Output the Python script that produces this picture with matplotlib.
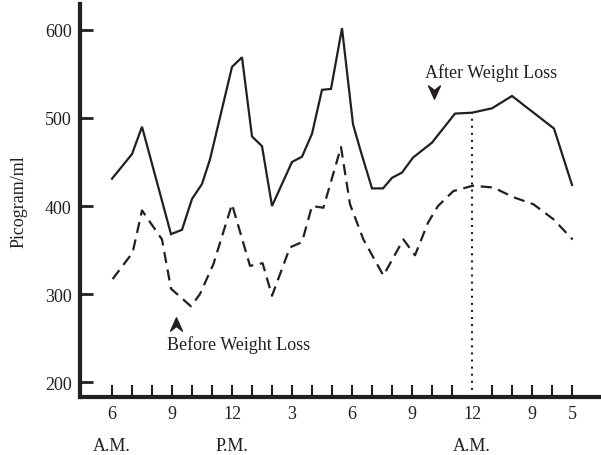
import matplotlib
matplotlib.use('Agg')
import matplotlib.pyplot as plt
from matplotlib.path import Path
from matplotlib.transforms import blended_transform_factory

plt.rcParams['font.family'] = ['Liberation Serif', 'DejaVu Serif']

# hours counted from 6 A.M. (one tick = one hour)
after_hours = [0, 1, 1.5, 2.95, 3.5, 4, 4.5, 4.9, 6, 6.5, 7, 7.5, 8, 9, 9.5, 10,
               10.5, 10.95, 11.5, 12.05, 12.4, 13, 13.55, 14, 14.5, 15.05, 16,
               17.15, 18, 19, 20, 22.1, 23]
after_vals = [431, 459, 490, 368, 373, 408, 425, 453, 558, 569, 479, 468, 400,
              450, 456, 482, 532, 533, 602, 493, 465, 420, 420, 432, 438, 455,
              472, 505, 506, 511, 525, 488, 424]

before_hours = [0.03, 1.03, 1.5, 2.5, 2.95, 3.95, 4.4, 5.07, 6, 6.9, 7.53, 8,
                8.9, 9.5, 10, 10.57, 11.45, 11.9, 12.57, 13.57, 14.57, 15.15,
                15.8, 16.3, 17.07, 17.4, 18.03, 19.07, 20.07, 21.07, 22.07, 23.03]
before_vals = [317, 347, 395, 362, 306, 286, 300, 334, 402, 332, 335, 298,
               353, 359, 400, 398, 467, 402, 362, 321, 362, 344, 381, 400, 417,
               419, 423, 421, 410, 402, 385, 362]

label_pos = [0, 3, 6, 9, 12, 15, 18, 21, 23]
label_text = ['6', '9', '12', '3', '6', '9', '12', '9', '5']
minor_pos = [h for h in range(24) if h not in label_pos]
period_pos = [0, 6, 18]
period_text = ['A.M.', 'P.M.', 'A.M.']
y_ticks = [200, 300, 400, 500, 600]
midnight = 18

ink = '#231f20'

fig = plt.figure(figsize=(6.01, 4.56), dpi=100)
ax = fig.add_axes([80 / 601, 58 / 456, 521 / 601, 393 / 456])

ax.plot(after_hours, after_vals, color=ink, lw=1.6, solid_joinstyle='miter')
ax.plot(before_hours, before_vals, color=ink, lw=1.6, linestyle=(0, (5, 3)))
ax.vlines(midnight, 183, after_vals[after_hours.index(midnight)], color=ink,
          lw=1.5, linestyle=(0, (1, 2.4)))

ax.set_xlim(-1.6, 24.45)
ax.set_ylim(183, 629.5)

for side in ['top', 'right']:
    ax.spines[side].set_visible(False)
for side in ['left', 'bottom']:
    ax.spines[side].set_linewidth(3)
    ax.spines[side].set_color(ink)

ax.set_yticks(y_ticks)
ax.set_yticklabels([str(v) for v in y_ticks])
ax.set_xticks(label_pos)
ax.set_xticklabels(label_text)
ax.set_xticks(minor_pos, minor=True)
ax.tick_params(axis='y', direction='in', length=9.5, width=2, color=ink,
               labelsize=13, pad=6, labelcolor=ink)
ax.tick_params(axis='x', which='both', direction='in', length=9, width=1.5,
               color=ink, labelsize=13, pad=6, labelcolor=ink)
for tick in ax.xaxis.get_major_ticks():
    if tick.get_loc() == midnight:
        tick.tick1line.set_visible(False)

trans = blended_transform_factory(ax.transData, ax.transAxes)
for p, t in zip(period_pos, period_text):
    ax.text(p, -0.123, t, transform=trans, ha='center', va='center',
            fontsize=13, color=ink)

ax.set_ylabel('Picogram/ml', fontsize=13, color=ink)
ax.yaxis.set_label_coords(-0.1, 0.5)

# arrowhead markers
down = Path([(0, -0.5), (-0.45, 0.5), (0, 0.15), (0.45, 0.5), (0, -0.5)],
            [Path.MOVETO, Path.LINETO, Path.LINETO, Path.LINETO, Path.CLOSEPOLY])
up = Path([(0, 0.5), (-0.45, -0.5), (0, -0.15), (0.45, -0.5), (0, 0.5)],
          [Path.MOVETO, Path.LINETO, Path.LINETO, Path.LINETO, Path.CLOSEPOLY])
ax.plot([16.1], [529], marker=down, markersize=9.5, color=ink, lw=0)
ax.plot([3.2], [266], marker=up, markersize=9.5, color=ink, lw=0)
ax.text(15.65, 552, 'After Weight Loss', fontsize=13, color=ink,
        ha='left', va='center')
ax.text(2.75, 243, 'Before Weight Loss', fontsize=13, color=ink,
        ha='left', va='center')

fig.savefig('out.png', dpi=100)
